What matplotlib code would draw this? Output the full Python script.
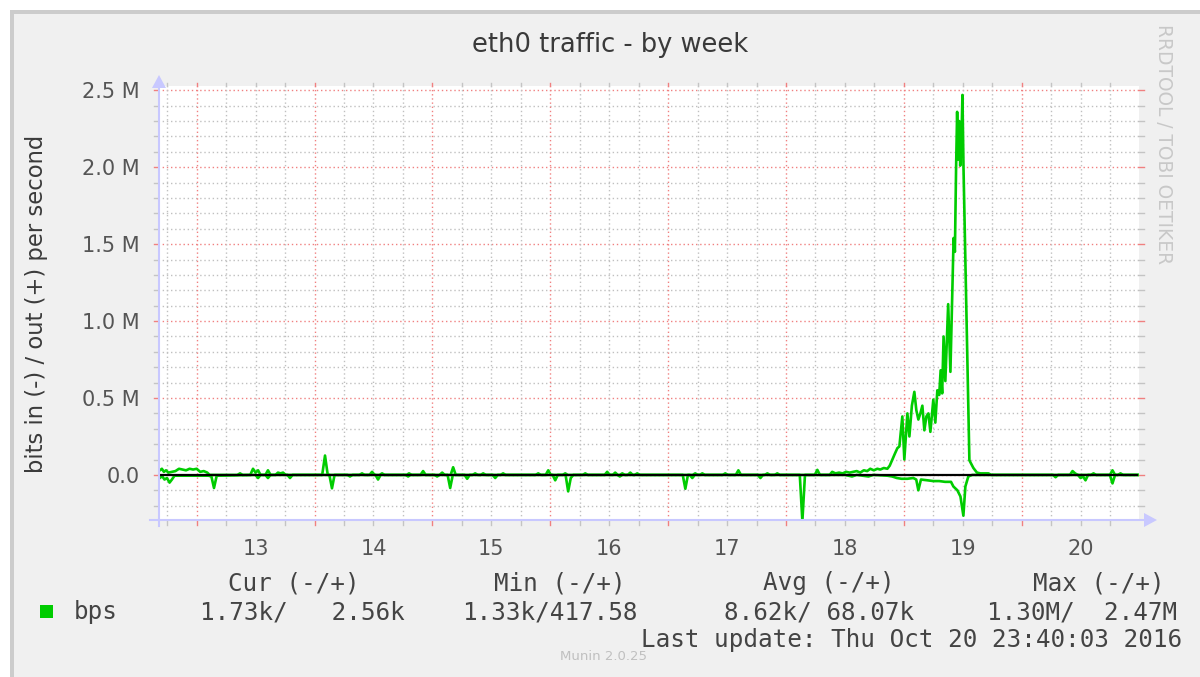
import matplotlib
matplotlib.use("Agg")
import matplotlib.pyplot as plt
import matplotlib.transforms as mtransforms
from matplotlib.patches import Rectangle, Polygon
from matplotlib.lines import Line2D
import numpy as np

# ---------------- data (time in day-of-month, values in Mbit/s) ----------------
out_time = [12.672, 12.690, 12.705, 12.722, 12.740, 12.760, 12.790, 12.820, 12.850, 12.880,
            12.910, 12.940, 12.970, 13.000, 13.030, 13.060, 13.090, 13.110, 13.345, 13.368,
            13.390, 13.455, 13.478, 13.500, 13.521, 13.542, 13.583, 13.605, 13.627, 13.668,
            13.690, 13.712, 13.733, 13.755, 14.065, 14.089, 14.112, 14.380, 14.403, 14.425,
            14.466, 14.488, 14.510, 14.551, 14.573, 14.595, 14.780, 14.802, 14.824, 14.899,
            14.921, 14.943, 15.061, 15.083, 15.105, 15.155, 15.176, 15.198, 15.341, 15.363,
            15.385, 15.409, 15.431, 15.453, 15.578, 15.600, 15.622, 15.876, 15.898, 15.920,
            15.961, 15.983, 16.005, 16.105, 16.127, 16.149, 16.275, 16.297, 16.319, 16.461,
            16.483, 16.505, 16.530, 16.551, 16.573, 16.590, 16.611, 16.633, 16.657, 16.679,
            16.700, 16.716, 16.738, 16.760, 17.208, 17.230, 17.252, 17.268, 17.290, 17.312,
            17.463, 17.485, 17.507, 17.574, 17.596, 17.618, 17.820, 17.842, 17.864, 17.904,
            17.926, 17.948, 18.244, 18.266, 18.288, 18.370, 18.392, 18.420, 18.450, 18.480,
            18.510, 18.540, 18.571, 18.600, 18.630, 18.660, 18.689, 18.715, 18.745, 18.775,
            18.800, 18.830, 18.860, 18.880, 18.902, 18.925, 18.945, 18.962, 18.987, 19.004,
            19.030, 19.047, 19.068, 19.089, 19.106, 19.123, 19.140, 19.157, 19.174, 19.191,
            19.208, 19.225, 19.250, 19.267, 19.284, 19.300, 19.312, 19.325, 19.337, 19.352,
            19.376, 19.395, 19.412, 19.422, 19.433, 19.443, 19.452, 19.461, 19.470, 19.478,
            19.487, 19.497, 19.506, 19.556, 19.590, 19.620, 19.650, 19.690, 19.718, 19.740,
            20.409, 20.431, 20.453, 20.475, 20.587, 20.609, 20.631, 20.748, 20.770, 20.792,
            20.816, 20.838, 20.860, 20.986]
out_mbps = [0.045, 0.030, 0.040, 0.020, 0.030, 0.015, 0.020, 0.025, 0.040, 0.035,
            0.030, 0.040, 0.035, 0.040, 0.020, 0.025, 0.015, 0.000, 0.000, 0.010,
            0.000, 0.000, 0.040, 0.015, 0.030, 0.000, 0.000, 0.030, 0.000, 0.000,
            0.015, 0.010, 0.015, 0.000, 0.000, 0.126, 0.000, 0.000, 0.010, 0.000,
            0.000, 0.020, 0.000, 0.000, 0.010, 0.000, 0.000, 0.010, 0.000, 0.000,
            0.025, 0.000, 0.000, 0.015, 0.000, 0.000, 0.050, 0.000, 0.000, 0.010,
            0.000, 0.000, 0.010, 0.000, 0.000, 0.010, 0.000, 0.000, 0.010, 0.000,
            0.000, 0.030, 0.000, 0.000, 0.010, 0.000, 0.000, 0.010, 0.000, 0.000,
            0.020, 0.000, 0.000, 0.015, 0.000, 0.000, 0.010, 0.000, 0.000, 0.015,
            0.000, 0.000, 0.010, 0.000, 0.000, 0.010, 0.000, 0.000, 0.010, 0.000,
            0.000, 0.010, 0.000, 0.000, 0.030, 0.000, 0.000, 0.010, 0.000, 0.000,
            0.010, 0.000, 0.000, 0.033, 0.000, 0.000, 0.020, 0.010, 0.015, 0.010,
            0.020, 0.015, 0.020, 0.025, 0.015, 0.030, 0.025, 0.040, 0.030, 0.040,
            0.035, 0.045, 0.040, 0.060, 0.100, 0.140, 0.174, 0.185, 0.380, 0.100,
            0.400, 0.250, 0.450, 0.540, 0.420, 0.360, 0.400, 0.450, 0.290, 0.380,
            0.400, 0.280, 0.490, 0.340, 0.550, 0.520, 0.680, 0.530, 0.900, 0.610,
            1.110, 0.670, 1.200, 1.540, 1.450, 1.990, 2.360, 2.050, 2.300, 2.010,
            2.120, 2.470, 2.000, 0.095, 0.045, 0.015, 0.010, 0.010, 0.010, 0.000,
            0.000, 0.025, 0.010, 0.000, 0.000, 0.010, 0.000, 0.000, 0.030, 0.000,
            0.000, 0.010, 0.000, 0.000]

in_time = [12.672, 12.690, 12.705, 12.727, 12.748, 12.770, 12.790, 12.812, 13.100, 13.125,
           13.147, 13.170, 13.499, 13.521, 13.543, 13.583, 13.605, 13.627, 13.770, 13.792,
           13.814, 14.126, 14.148, 14.170, 14.279, 14.301, 14.323, 14.517, 14.539, 14.561,
           14.772, 14.794, 14.816, 15.018, 15.040, 15.062, 15.129, 15.151, 15.173, 15.273,
           15.295, 15.317, 15.511, 15.533, 15.555, 16.020, 16.042, 16.064, 16.130, 16.152,
           16.174, 16.196, 16.570, 16.590, 16.612, 17.124, 17.146, 17.168, 17.183, 17.205,
           17.227, 17.761, 17.783, 17.805, 18.117, 18.139, 18.161, 18.500, 18.560, 18.600,
           18.700, 18.740, 18.860, 18.900, 18.940, 18.980, 19.030, 19.080, 19.105, 19.123,
           19.145, 19.200, 19.250, 19.300, 19.350, 19.400, 19.420, 19.454, 19.480, 19.505,
           19.522, 19.547, 19.580, 20.265, 20.287, 20.309, 20.477, 20.499, 20.520, 20.541,
           20.563, 20.748, 20.770, 20.792, 20.986]
in_mbps = [0.010, 0.020, 0.005, 0.030, 0.020, 0.050, 0.030, 0.005, 0.005, 0.010,
           0.085, 0.005, 0.000, 0.020, 0.000, 0.000, 0.020, 0.000, 0.000, 0.020,
           0.000, 0.000, 0.087, 0.000, 0.000, 0.010, 0.000, 0.000, 0.030, 0.000,
           0.000, 0.010, 0.000, 0.000, 0.010, 0.000, 0.000, 0.085, 0.000, 0.000,
           0.025, 0.000, 0.000, 0.020, 0.000, 0.000, 0.035, 0.000, 0.000, 0.107,
           0.020, 0.000, 0.000, 0.010, 0.000, 0.000, 0.090, 0.000, 0.000, 0.020,
           0.000, 0.000, 0.020, 0.000, 0.000, 0.300, 0.000, 0.000, 0.010, 0.000,
           0.010, 0.000, 0.005, 0.010, 0.020, 0.025, 0.025, 0.020, 0.030, 0.100,
           0.030, 0.035, 0.040, 0.040, 0.045, 0.045, 0.075, 0.100, 0.140, 0.265,
           0.075, 0.010, 0.000, 0.000, 0.015, 0.000, 0.000, 0.020, 0.010, 0.035,
           0.000, 0.000, 0.055, 0.000, 0.000]

y_ticks = [0.0, 0.5, 1.0, 1.5, 2.0, 2.5]
y_tick_labels = ["0.0", "0.5 M", "1.0 M", "1.5 M", "2.0 M", "2.5 M"]
day_labels = ["13", "14", "15", "16", "17", "18", "19", "20"]
day_starts = [13, 14, 15, 16, 17, 18, 19, 20]

legend_headers = ["Cur (-/+)", "Min (-/+)", "Avg (-/+)", "Max (-/+)"]
legend_values = ["1.73k/   2.56k", "1.33k/417.58", "8.62k/ 68.07k", "1.30M/  2.47M"]
legend_name = "bps"
last_update = "Last update: Thu Oct 20 23:40:03 2016"
end_time = 20.986

# ---------------- layout ----------------
W, H = 1200, 677
fig = plt.figure(figsize=(W / 100, H / 100), dpi=100, facecolor="white")

def fx(px):
    return px / W

def fy(py):
    return 1 - py / H

# outer frame / background
fig.patches.append(Rectangle((fx(10), 0), 1 - fx(10), fy(10), transform=fig.transFigure,
                             facecolor="#cccccc", edgecolor="none", zorder=-20))
fig.patches.append(Rectangle((fx(14), 0), 1 - fx(14), fy(14), transform=fig.transFigure,
                             facecolor="#f0f0f0", edgecolor="none", zorder=-19))

L, R, T, B = 158, 1139, 86, 520
ax = fig.add_axes([fx(L), fy(B), fx(R) - fx(L), fy(T) - fy(B)])
ax.set_zorder(1)
ax.set_facecolor("white")
x0, x1 = 12.672, 20.995
y0, y1 = -0.293, 2.528
ax.set_xlim(x0, x1)
ax.set_ylim(y0, y1)
for s in ax.spines.values():
    s.set_visible(False)

red = "#f08080"
gray = "#c0c0c0"
dot = (0, (1, 2))

# horizontal grid
for v in np.arange(-0.2, 2.55, 0.1):
    v = round(v, 1)
    major = abs(v / 0.5 - round(v / 0.5)) < 1e-6
    ax.axhline(v, color=red if major else gray, lw=1.0, ls=dot, zorder=1)
# vertical grid
for t in np.arange(12.75, x1, 0.25):
    major = abs(t - round(t)) < 1e-6
    ax.axvline(t, color=red if major else gray, lw=1.0, ls=dot, zorder=1)

# tick marks (outside)
bt = mtransforms.blended_transform_factory(ax.transData, ax.transAxes)
lt = mtransforms.blended_transform_factory(ax.transAxes, ax.transData)
for t in np.arange(12.75, x1, 0.25):
    major = abs(t - round(t)) < 1e-6
    c = "#f08080" if major else "#c4c4c4"
    ax.plot([t, t], [-0.012, 0.0], color=c, lw=1.0, transform=bt, clip_on=False, zorder=2)
    ax.plot([t, t], [1.0, 1.008], color=c, lw=1.0, transform=bt, clip_on=False, zorder=2)
for v in np.arange(-0.2, 2.55, 0.1):
    v = round(v, 1)
    major = abs(v / 0.5 - round(v / 0.5)) < 1e-6
    c = "#f08080" if major else "#c4c4c4"
    ax.plot([-0.004, 0.0], [v, v], color=c, lw=1.0, transform=lt, clip_on=False, zorder=2)
    ax.plot([1.0, 1.005], [v, v], color=c, lw=1.0, transform=lt, clip_on=False, zorder=2)

# data
green = "#00cc00"
ax.plot(out_time, out_mbps, color=green, lw=1.9, zorder=3)
ax.plot(in_time, [-v for v in in_mbps], color=green, lw=1.9, zorder=3)
ax.hlines(0, x0, end_time, color="black", lw=1.6, zorder=4)

# tick labels
ax.set_yticks(y_ticks)
ax.set_yticklabels(y_tick_labels)
ax.tick_params(axis="y", length=0, pad=13, labelsize=15, labelcolor="#555555")
ax.set_xticks([d + 0.5 for d in day_starts])
ax.set_xticklabels(day_labels)
ax.tick_params(axis="x", length=0, pad=14, labelsize=15, labelcolor="#555555")

# axis arrows (light blue)
blue = "#c8c8ff"
fig.lines.append(Line2D([fx(L + 1), fx(L + 1)], [fy(B + 6), fy(88)], transform=fig.transFigure,
                        color=blue, lw=1.5, zorder=5))
fig.lines.append(Line2D([fx(150), fx(1145)], [fy(B), fy(B)], transform=fig.transFigure,
                        color=blue, lw=1.5, zorder=5))
fig.patches.append(Polygon([(fx(L - 6), fy(88)), (fx(L + 8), fy(88)), (fx(L + 1), fy(75))],
                           closed=True, transform=fig.transFigure, facecolor=blue,
                           edgecolor="none", zorder=5))
fig.patches.append(Polygon([(fx(1144), fy(B - 7)), (fx(1144), fy(B + 7)), (fx(1157), fy(B))],
                           closed=True, transform=fig.transFigure, facecolor=blue,
                           edgecolor="none", zorder=5))

# title and labels
fig.text(fx(610), fy(45), "eth0 traffic - by week", ha="center", va="center",
         fontsize=18.5, color="#3a3a3a", family="DejaVu Sans")
fig.text(fx(37), fy(304), "bits in (-) / out (+) per second", ha="center", va="center",
         rotation=90, fontsize=16.3, color="#3a3a3a", family="DejaVu Sans")
fig.text(fx(1163), fy(24), "RRDTOOL / TOBI OETIKER", ha="center", va="top", rotation=270,
         fontsize=13.4, color="#c8c8c8", family="DejaVu Sans")

# legend
mono = "DejaVu Sans Mono"
fs = 17.5
tc = "#444444"
fig.patches.append(Rectangle((fx(40), fy(618)), fx(13), 13 / H, transform=fig.transFigure,
                             facecolor=green, edgecolor="none", zorder=5))
fig.text(fx(74), fy(612), legend_name, ha="left", va="center", fontsize=fs, color=tc, family=mono)
for x, s in zip([228, 494, 763, 1033], legend_headers):
    fig.text(fx(x), fy(583), s, ha="left", va="center", fontsize=fs, color=tc, family=mono)
for x, s in zip([200, 462, 724, 987], legend_values):
    fig.text(fx(x), fy(612), s, ha="left", va="center", fontsize=fs, color=tc, family=mono)
fig.text(fx(1182), fy(640), last_update, ha="right", va="center", fontsize=fs, color=tc, family=mono)
fig.text(fx(604), fy(657), "Munin 2.0.25", ha="center", va="center", fontsize=9.5,
         color="#c0c0c0", family="DejaVu Sans")

fig.savefig("out.png", dpi=100, facecolor=fig.get_facecolor())
